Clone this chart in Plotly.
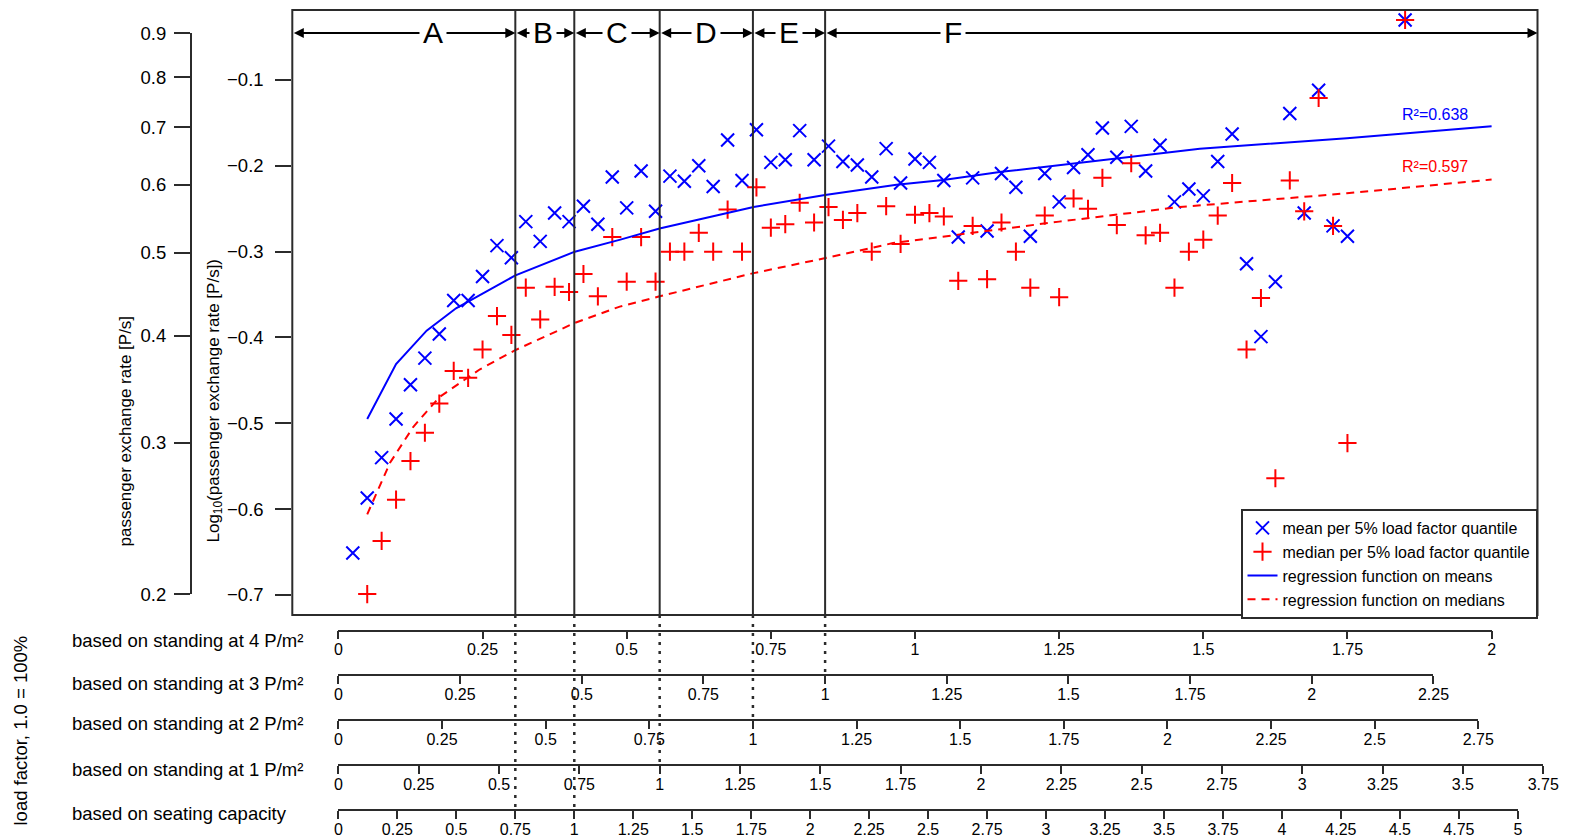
import plotly.graph_objects as go

# ------------------------------------------------------------------
# data: log10 passenger exchange rate per 5 % load-factor quantile
# (x = load factor based on standing at 4 P/m²)
# ------------------------------------------------------------------
mean_lf = [0.025, 0.05, 0.075, 0.1, 0.125, 0.15, 0.175, 0.2, 0.225, 0.25,
           0.275, 0.3, 0.325, 0.35, 0.375, 0.4, 0.425, 0.45, 0.475, 0.5,
           0.525, 0.55, 0.575, 0.6, 0.625, 0.65, 0.675, 0.7, 0.725, 0.75,
           0.775, 0.8, 0.825, 0.85, 0.875, 0.9, 0.925, 0.95, 0.975, 1.0,
           1.025, 1.05, 1.075, 1.1, 1.125, 1.15, 1.175, 1.2, 1.225, 1.25,
           1.275, 1.3, 1.325, 1.35, 1.375, 1.4, 1.425, 1.45, 1.475, 1.5,
           1.525, 1.55, 1.575, 1.6, 1.625, 1.65, 1.675, 1.7, 1.725, 1.75,
           1.85]
mean_log = [-0.651, -0.587, -0.540, -0.495, -0.455, -0.424, -0.396, -0.357, -0.357, -0.329,
            -0.293, -0.307, -0.265, -0.288, -0.255, -0.265, -0.247, -0.268, -0.213, -0.249,
            -0.206, -0.253, -0.212, -0.218, -0.200, -0.224, -0.170, -0.217, -0.158, -0.196,
            -0.193, -0.159, -0.193, -0.177, -0.195, -0.199, -0.213, -0.180, -0.220, -0.192,
            -0.196, -0.217, -0.283, -0.214, -0.276, -0.209, -0.225, -0.282, -0.209, -0.242,
            -0.202, -0.187, -0.156, -0.190, -0.154, -0.206, -0.176, -0.242, -0.227, -0.235,
            -0.195, -0.163, -0.314, -0.399, -0.335, -0.139, -0.255, -0.112, -0.270, -0.282,
            -0.030]

median_lf = [0.05, 0.075, 0.1, 0.125, 0.15, 0.175, 0.2, 0.225, 0.25,
             0.275, 0.3, 0.325, 0.35, 0.375, 0.4, 0.425, 0.45, 0.475, 0.5,
             0.525, 0.55, 0.575, 0.6, 0.625, 0.65, 0.675, 0.7, 0.725, 0.75,
             0.775, 0.8, 0.825, 0.85, 0.875, 0.9, 0.925, 0.95, 0.975, 1.0,
             1.025, 1.05, 1.075, 1.1, 1.125, 1.15, 1.175, 1.2, 1.225, 1.25,
             1.275, 1.3, 1.325, 1.35, 1.375, 1.4, 1.425, 1.45, 1.475, 1.5,
             1.525, 1.55, 1.575, 1.6, 1.625, 1.65, 1.675, 1.7, 1.725, 1.75,
             1.85]
median_log = [-0.699, -0.637, -0.589, -0.544, -0.511, -0.477, -0.439, -0.447, -0.414,
              -0.375, -0.397, -0.342, -0.379, -0.341, -0.347, -0.326, -0.352, -0.283, -0.335,
              -0.283, -0.335, -0.300, -0.300, -0.278, -0.300, -0.251, -0.300, -0.225, -0.272,
              -0.268, -0.243, -0.266, -0.248, -0.263, -0.255, -0.300, -0.247, -0.291, -0.257,
              -0.255, -0.259, -0.334, -0.270, -0.332, -0.266, -0.300, -0.342, -0.258, -0.353,
              -0.238, -0.250, -0.214, -0.269, -0.197, -0.281, -0.278, -0.342, -0.300, -0.286,
              -0.258, -0.220, -0.414, -0.354, -0.564, -0.217, -0.253, -0.121, -0.270, -0.523,
              -0.030]

# regression curves
reg_mean_lf = [0.05, 0.1, 0.153, 0.204, 0.306, 0.41, 0.489, 0.557, 0.72, 0.844,
               0.968, 1.049, 1.15, 1.275, 1.494, 1.749, 2.0]
reg_mean_log = [-0.495, -0.431, -0.392, -0.366, -0.328, -0.300, -0.286, -0.273, -0.248, -0.234,
                -0.222, -0.2165, -0.207, -0.197, -0.180, -0.168, -0.154]
reg_median_lf = [0.05, 0.0895, 0.13, 0.176, 0.2456, 0.306, 0.41, 0.488, 0.557, 0.72,
                 0.841, 0.962, 1.25, 1.459, 1.749, 2.0]
reg_median_log = [-0.606, -0.546, -0.504, -0.469, -0.437, -0.415, -0.383, -0.364, -0.352, -0.325,
                  -0.308, -0.290, -0.265, -0.248, -0.232, -0.216]
r2_mean, r2_median = 0.638, 0.597

# alternative load-factor scales shown underneath
scale_names = ["based on standing at 4 P/m²", "based on standing at 3 P/m²",
               "based on standing at 2 P/m²", "based on standing at 1 P/m²",
               "based on seating capacity"]
scale_ticks = [
    [0, 0.25, 0.5, 0.75, 1, 1.25, 1.5, 1.75, 2],
    [0, 0.25, 0.5, 0.75, 1, 1.25, 1.5, 1.75, 2, 2.25],
    [0, 0.25, 0.5, 0.75, 1, 1.25, 1.5, 1.75, 2, 2.25, 2.5, 2.75],
    [0, 0.25, 0.5, 0.75, 1, 1.25, 1.5, 1.75, 2, 2.25, 2.5, 2.75, 3, 3.25, 3.5, 3.75],
    [0, 0.25, 0.5, 0.75, 1, 1.25, 1.5, 1.75, 2, 2.25, 2.5, 2.75, 3, 3.25, 3.5, 3.75,
     4, 4.25, 4.5, 4.75, 5],
]
# one unit of each scale expressed in "standing at 4 P/m²" load factor
scale_lf4_per_unit = [1.0, 0.8441, 0.7189, 0.5572, 0.4091]

# zone limits: (scale index, value on that scale)
zone_limits = [(4, 0.75), (4, 1.0), (3, 1.0), (2, 1.0), (1, 1.0)]
zone_letters = ["A", "B", "C", "D", "E", "F"]
zone_letter_lf = [0.164, 0.354, 0.483, 0.637, 0.782, 1.066]

rate_ticks = [0.2, 0.3, 0.4, 0.5, 0.6, 0.7, 0.8, 0.9]
log_ticks = [-0.7, -0.6, -0.5, -0.4, -0.3, -0.2, -0.1]

# ------------------------------------------------------------------
# layout geometry (pixels of the 1575 x 840 page)
# ------------------------------------------------------------------
W, H = 1575, 840
FONT = "Liberation Sans, Arial, Helvetica, sans-serif"
INK = "#2b2b2b"
BOX_L, BOX_R, BOX_T, BOX_B = 292.3, 1537.5, 10.0, 615.0
X0_PX, PX_PER_LF = 338.4, 576.6
Y_REF_PX, Y_REF_VAL, PX_PER_LOG = 80.0, -0.1, 858.3
SCALE_LINE_PX = [630.5, 675.0, 720.0, 765.0, 810.0]
SCALE_NAME_PX = [640.0, 683.0, 723.0, 769.0, 813.0]
ARROW_PX = 33.0
OUTER_AXIS_PX = 190.7


def fx(px):
    return px / W


def fy(py):
    return 1 - py / H


def lf_at(px):
    return (px - X0_PX) / PX_PER_LF


def py_of(logv):
    return Y_REF_PX + (Y_REF_VAL - logv) * PX_PER_LOG


x_lo, x_hi = lf_at(BOX_L), lf_at(BOX_R)
y_lo = Y_REF_VAL - (BOX_B - Y_REF_PX) / PX_PER_LOG
y_hi = Y_REF_VAL - (BOX_T - Y_REF_PX) / PX_PER_LOG

fig = go.Figure()

# data marks
fig.add_trace(go.Scatter(
    x=mean_lf, y=mean_log, mode="markers", name="mean per 5% load factor quantile",
    marker=dict(symbol="x-thin", size=13, color="blue", line=dict(width=2, color="blue")),
    hoverinfo="skip"))
fig.add_trace(go.Scatter(
    x=median_lf, y=median_log, mode="markers", name="median per 5% load factor quantile",
    marker=dict(symbol="cross-thin", size=13, color="red", line=dict(width=2, color="red")),
    hoverinfo="skip"))
fig.add_trace(go.Scatter(
    x=reg_mean_lf, y=reg_mean_log, mode="lines", name="regression function on means",
    line=dict(color="blue", width=2), hoverinfo="skip"))
fig.add_trace(go.Scatter(
    x=reg_median_lf, y=reg_median_log, mode="lines", name="regression function on medians",
    line=dict(color="red", width=2, dash="8px,6px"), hoverinfo="skip"))

# carriers so that the extra axes get drawn
fig.add_trace(go.Scatter(x=[None], y=[None], xaxis="x", yaxis="y2",
                         showlegend=False, hoverinfo="skip"))
for i in range(len(scale_names)):
    fig.add_trace(go.Scatter(x=[None], y=[None], xaxis=f"x{i + 2}", yaxis="y",
                             showlegend=False, hoverinfo="skip"))

layout = dict(
    width=W, height=H,
    margin=dict(l=0, r=0, t=0, b=0, autoexpand=False),
    paper_bgcolor="white", plot_bgcolor="rgba(0,0,0,0)",
    font=dict(family=FONT, color="black"),
    showlegend=True,
    xaxis=dict(domain=[fx(BOX_L), fx(BOX_R)], range=[x_lo, x_hi], showticklabels=False,
               ticks="", showline=False, showgrid=False, zeroline=False),
    yaxis=dict(domain=[fy(BOX_B), fy(BOX_T)], range=[y_lo, y_hi],
               tickvals=log_ticks, tickformat=".1f", ticks="outside", ticklen=16,
               tickwidth=1.5, tickcolor=INK, showline=False, showgrid=False,
               zeroline=False, tickfont=dict(size=18.5), ticklabelstandoff=8),
    yaxis2=dict(type="log", anchor="free", position=fx(OUTER_AXIS_PX), side="left",
                domain=[fy(py_of(-0.69897)), fy(py_of(-0.045757))],
                range=[-0.69897, -0.045757],
                tickvals=rate_ticks, ticktext=[f"{v:g}" for v in rate_ticks],
                ticks="outside", ticklen=16, tickwidth=1.5, tickcolor=INK,
                showline=True, linecolor=INK, linewidth=1.5, showgrid=False,
                zeroline=False, tickfont=dict(size=18.5), ticklabelstandoff=4),
    legend=dict(x=fx(BOX_R), xanchor="right", y=fy(BOX_B + 4), yanchor="bottom",
                bgcolor="white", bordercolor=INK, borderwidth=2,
                font=dict(size=16), itemwidth=30, tracegroupgap=0),
)

for i, ticks in enumerate(scale_ticks):
    span = ticks[-1] * scale_lf4_per_unit[i] * PX_PER_LF
    layout[f"xaxis{i + 2}"] = dict(
        anchor="free", position=fy(SCALE_LINE_PX[i]), side="bottom",
        domain=[fx(X0_PX), fx(X0_PX + span)], range=[0, ticks[-1]],
        tickvals=ticks, ticktext=[f"{v:g}" for v in ticks],
        ticks="outside", ticklen=8, tickwidth=1.5, tickcolor=INK,
        showline=True, linecolor=INK, linewidth=1.5, showgrid=False, zeroline=False,
        tickfont=dict(size=16), ticklabelstandoff=-3)

fig.update_layout(**layout)

shapes = []
annotations = []

# frame of the plotting region
shapes.append(dict(type="rect", xref="paper", yref="paper",
                   x0=fx(BOX_L), x1=fx(BOX_R), y0=fy(BOX_B), y1=fy(BOX_T),
                   line=dict(color=INK, width=2), layer="above"))

# zone limits: solid inside the plot, dotted down to the scale they refer to
limits_lf = []
for si, val in zone_limits:
    lf = val * scale_lf4_per_unit[si]
    limits_lf.append(lf)
    shapes.append(dict(type="line", xref="x", yref="paper", x0=lf, x1=lf,
                       y0=fy(BOX_B), y1=fy(BOX_T), line=dict(color=INK, width=2)))
    shapes.append(dict(type="line", xref="x", yref="paper", x0=lf, x1=lf,
                       y0=fy(BOX_B), y1=fy(SCALE_LINE_PX[si]),
                       line=dict(color=INK, width=2.5, dash="3px,6px")))

# double-headed arrows spanning each zone
edges = [x_lo] + limits_lf + [x_hi]
for a, b in zip(edges[:-1], edges[1:]):
    annotations.append(dict(
        x=b, y=fy(ARROW_PX), xref="x", yref="paper",
        ax=a, ay=0, axref="x", ayref="pixel", text="", showarrow=True,
        arrowside="end+start", arrowhead=2, startarrowhead=2,
        arrowsize=1.0, startarrowsize=1.0, arrowwidth=2, arrowcolor="black",
        standoff=0, startstandoff=0))
for letter, lf in zip(zone_letters, zone_letter_lf):
    annotations.append(dict(
        x=lf, y=fy(ARROW_PX), xref="x", yref="paper", text=letter, showarrow=False,
        font=dict(size=30, color="black"), bgcolor="white", borderpad=3,
        xanchor="center", yanchor="middle"))

# goodness of fit
annotations.append(dict(x=fx(1400), y=fy(115), xref="paper", yref="paper",
                        text=f"R²={r2_mean}", showarrow=False, xanchor="left",
                        yanchor="middle", font=dict(size=16, color="blue")))
annotations.append(dict(x=fx(1400), y=fy(166.7), xref="paper", yref="paper",
                        text=f"R²={r2_median}", showarrow=False, xanchor="left",
                        yanchor="middle", font=dict(size=16, color="red")))

# axis titles
annotations.append(dict(x=fx(125), y=fy(431.5), xref="paper", yref="paper",
                        text="passenger exchange rate [P/s]", textangle=-90,
                        xanchor="center", yanchor="middle",
                        showarrow=False, font=dict(size=17)))
annotations.append(dict(x=fx(214.5), y=fy(401), xref="paper", yref="paper",
                        text="Log<sub>10</sub>(passenger exchange rate [P/s])", textangle=-90,
                        xanchor="center", yanchor="middle",
                        showarrow=False, font=dict(size=17)))
annotations.append(dict(x=fx(20), y=fy(730.5), xref="paper", yref="paper",
                        text="load factor, 1.0 = 100%", textangle=-90,
                        xanchor="center", yanchor="middle",
                        showarrow=False, font=dict(size=18.5)))
for name, ypx in zip(scale_names, SCALE_NAME_PX):
    annotations.append(dict(x=fx(70.3), y=fy(ypx), xref="paper", yref="paper",
                            text=name, showarrow=False, xanchor="left",
                            yanchor="middle", font=dict(size=18.5)))

fig.update_layout(shapes=shapes, annotations=annotations)

fig.write_html("out.html", config={"displayModeBar": False})
